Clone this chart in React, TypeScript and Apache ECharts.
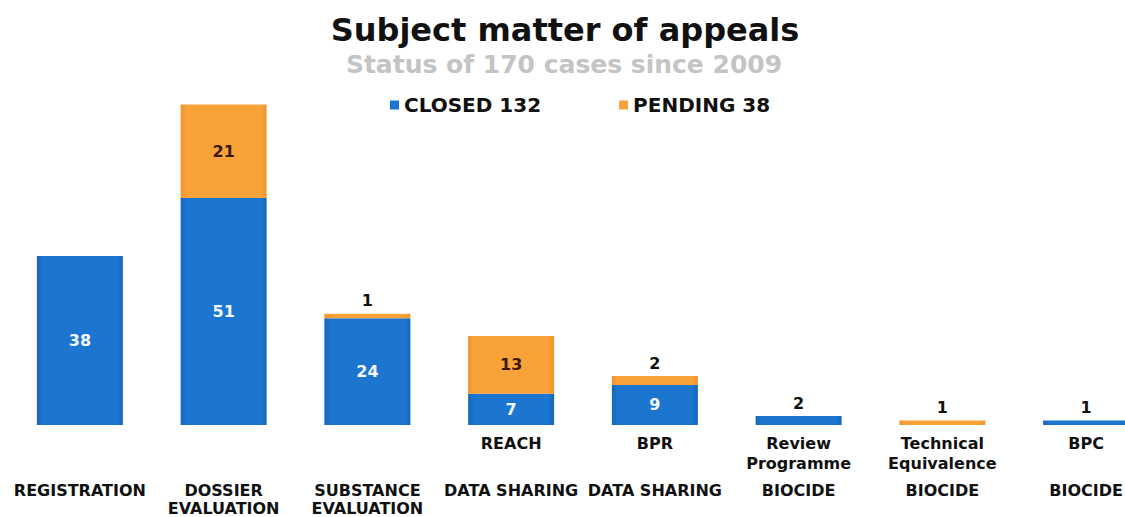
import React, { useEffect, useRef } from "react";
import * as echarts from "echarts";

const upperLabels = ["", "", "", "REACH", "BPR", "Review\nProgramme", "Technical\nEquivalence", "BPC"];
const lowerLabels = [
  "REGISTRATION",
  "DOSSIER\nEVALUATION",
  "SUBSTANCE\nEVALUATION",
  "DATA SHARING",
  "DATA SHARING",
  "BIOCIDE",
  "BIOCIDE",
  "BIOCIDE",
];
const closedValues = [38, 51, 24, 7, 9, 2, 0, 1];
const pendingValues = [0, 21, 1, 13, 2, 0, 1, 0];
const titleText = "Subject matter of appeals";
const subtitleText = "Status of 170 cases since 2009";

const FONT = "'DejaVu Sans', Verdana, sans-serif";
const BLUE = "#1c76d0";
const ORANGE = "#f9a23a";

function sum(a: number[]) {
  return a.reduce((s, v) => s + v, 0);
}

export default function App() {
  const ref = useRef<HTMLDivElement>(null);
  useEffect(() => {
    document.body.style.margin = "0";
    if (!ref.current) return;
    const chart = echarts.init(ref.current, null, { renderer: "svg" });
    const blueGrad = new echarts.graphic.LinearGradient(0, 0, 1, 0, [
      { offset: 0, color: "#1865b8" },
      { offset: 0.07, color: BLUE },
      { offset: 0.93, color: BLUE },
      { offset: 1, color: "#1865b8" },
    ]);
    const orangeGrad = new echarts.graphic.LinearGradient(0, 0, 1, 0, [
      { offset: 0, color: "#ef9430" },
      { offset: 0.07, color: ORANGE },
      { offset: 0.93, color: ORANGE },
      { offset: 1, color: "#ef9430" },
    ]);
    const mk = (vals: number[], insideColor: string) =>
      vals.map((v) => ({
        value: v,
        label: {
          position: v >= 5 ? "inside" : "top",
          color: v >= 5 ? insideColor : "#111",
        },
      }));
    const labelBase = {
      show: true,
      fontFamily: FONT,
      fontWeight: "bold",
      fontSize: 16,
      formatter: (p: any) => (p.value ? String(p.value) : ""),
    };
    const totals: Record<string, number> = {
      CLOSED: sum(closedValues),
      PENDING: sum(pendingValues),
    };
    const axisLabelBase = {
      interval: 0,
      fontFamily: FONT,
      fontWeight: "bold",
      fontSize: 16,
      color: "#111",
    };
    chart.setOption({
      animation: false,
      graphic: [
        {
          type: "text",
          x: 565,
          y: 30,
          style: {
            text: titleText,
            textAlign: "center",
            textVerticalAlign: "middle",
            fontFamily: FONT,
            fontWeight: "bold",
            fontSize: 32,
            fill: "#111",
          },
        },
        {
          type: "text",
          x: 564,
          y: 64,
          style: {
            text: subtitleText,
            textAlign: "center",
            textVerticalAlign: "middle",
            fontFamily: FONT,
            fontWeight: "bold",
            fontSize: 25,
            fill: "#c4c4c4",
          },
        },
      ],
      legend: {
        left: 385,
        top: 90,
        itemWidth: 9,
        itemHeight: 9,
        itemGap: 78,
        icon: "rect",
        formatter: (name: string) => `${name} ${totals[name]}`,
        textStyle: { fontFamily: FONT, fontWeight: "bold", fontSize: 20, color: "#111" },
        data: ["CLOSED", "PENDING"],
      },
      grid: { left: 8, right: 0, top: 69, bottom: 90, containLabel: false },
      xAxis: [
        {
          type: "category",
          data: upperLabels,
          position: "bottom",
          axisLine: { show: false },
          axisTick: { show: false },
          axisLabel: { ...axisLabelBase, margin: 8, lineHeight: 20 },
        },
        {
          type: "category",
          data: lowerLabels,
          position: "bottom",
          axisLine: { show: false },
          axisTick: { show: false },
          axisLabel: { ...axisLabelBase, margin: 56, lineHeight: 18 },
        },
      ],
      yAxis: { type: "value", min: 0, max: 80, show: false, splitLine: { show: false } },
      series: [
        {
          name: "CLOSED",
          type: "bar",
          stack: "all",
          barWidth: 86,
          xAxisIndex: 0,
          itemStyle: { color: blueGrad },
          label: labelBase,
          data: mk(closedValues, "#f2f8ff"),
        },
        {
          name: "PENDING",
          type: "bar",
          stack: "all",
          barWidth: 86,
          xAxisIndex: 0,
          itemStyle: { color: orangeGrad },
          label: labelBase,
          data: mk(pendingValues, "#3a1a04"),
        },
      ],
    });
    return () => chart.dispose();
  }, []);
  return (
    <div style={{ width: 1125, height: 517, overflow: "hidden", position: "relative" }}>
      <div ref={ref} style={{ width: 1158, height: 517 }} />
    </div>
  );
}
